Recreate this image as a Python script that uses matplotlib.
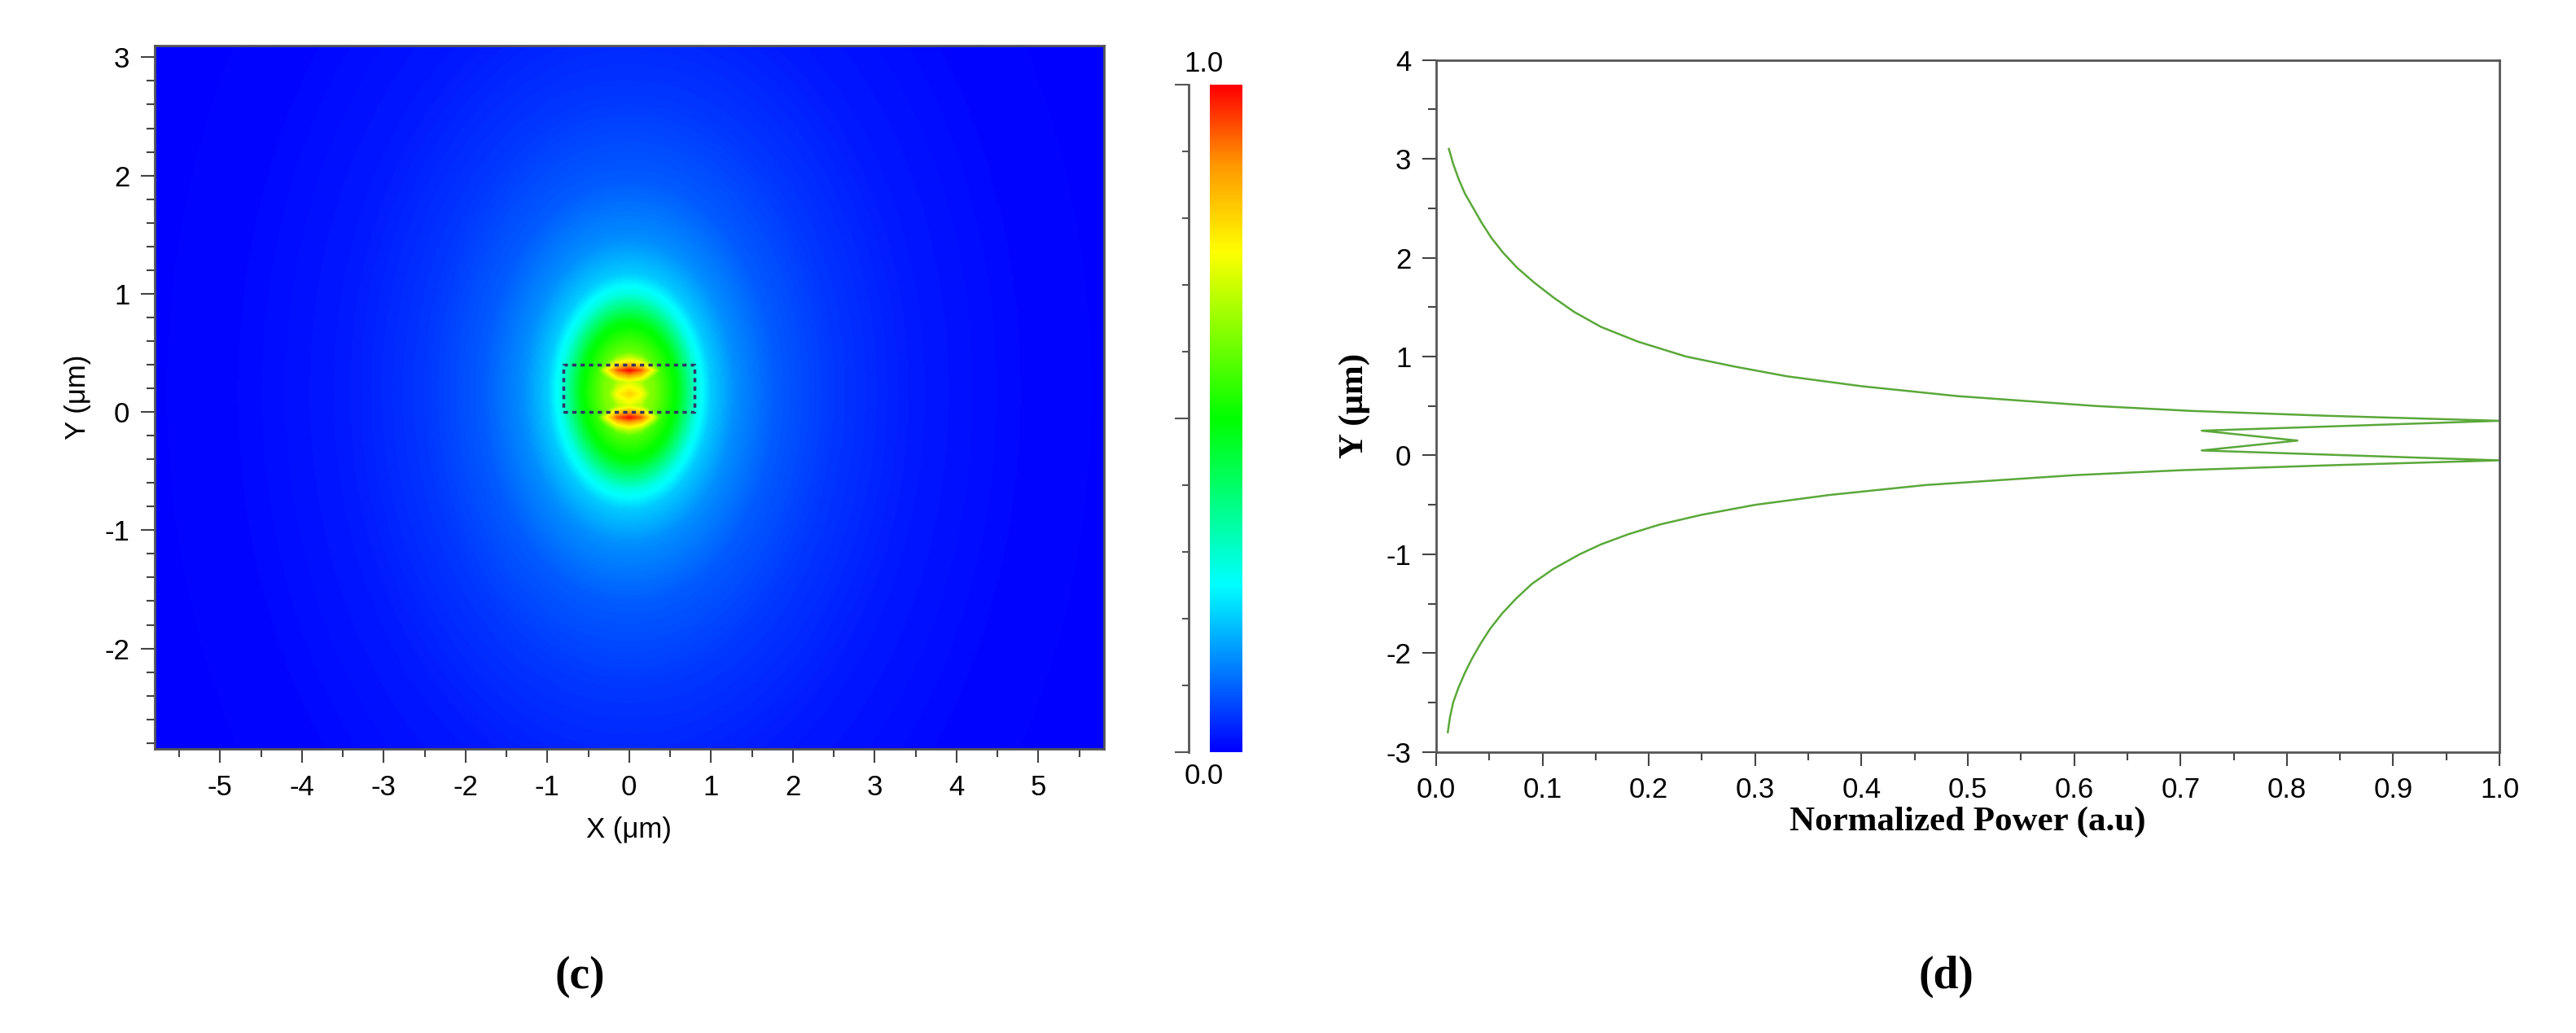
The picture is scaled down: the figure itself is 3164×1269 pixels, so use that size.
import numpy as np
import matplotlib
matplotlib.use("Agg")
import matplotlib.pyplot as plt
from matplotlib.colors import LinearSegmentedColormap
from matplotlib.ticker import MultipleLocator

plt.rcParams["axes.unicode_minus"] = False

# Vertical power profile (panel d)
prof_y = [3.1, 2.95, 2.8, 2.65, 2.5, 2.35, 2.2, 2.05, 1.9, 1.75, 1.6, 1.45, 1.3, 1.15, 1.0, 0.9,
          0.8, 0.7, 0.6, 0.5, 0.45, 0.4, 0.35,
          0.25, 0.15, 0.05, -0.05, -0.1, -0.15, -0.2, -0.3, -0.4, -0.5, -0.6, -0.7, -0.8, -0.9,
          -1.0, -1.15, -1.3, -1.45, -1.6, -1.75, -1.9, -2.05, -2.2, -2.35, -2.5, -2.65, -2.8]
prof_p = [0.012, 0.016, 0.021, 0.027, 0.035, 0.043, 0.052, 0.063, 0.076, 0.092, 0.11, 0.13, 0.155,
          0.19, 0.235, 0.28, 0.33, 0.4, 0.49, 0.62, 0.71, 0.84, 1.0,
          0.72, 0.81, 0.72, 1.0, 0.84, 0.7, 0.6, 0.46, 0.37, 0.3, 0.25, 0.21, 0.18, 0.155,
          0.135, 0.11, 0.09, 0.075, 0.062, 0.051, 0.042, 0.034, 0.027, 0.021, 0.016, 0.013, 0.011]
# Radial halo profile of the field (panel c), estimated
halo_r = [0.0, 0.3, 0.6, 0.83, 1.0, 1.3, 1.8, 2.5, 3.5, 5.0, 8.0]
halo_v = [0.68, 0.62, 0.48, 0.28, 0.2, 0.14, 0.09, 0.055, 0.025, 0.005, 0.0]
# Horizontal core profile (panel c), estimated
core_x = [0.0, 0.15, 0.3, 0.45, 0.6, 0.8, 1.1]
core_v = [1.0, 0.93, 0.72, 0.45, 0.25, 0.1, 0.0]

fig = plt.figure(figsize=(31.64, 12.69), dpi=100)
sans = "Liberation Sans"
serif = "Liberation Serif"

cmap = LinearSegmentedColormap.from_list("fd", [(0, "#0000ff"), (0.25, "#00ffff"), (0.5, "#00ff00"),
                                                 (0.75, "#ffff00"), (0.88, "#ff9900"), (1, "#ff0000")])

ax = fig.add_axes([0.060, 0.275, 0.3685, 0.681])
xs = np.linspace(-5.8, 5.8, 700)
ys = np.linspace(-2.85, 3.1, 700)
X, Y = np.meshgrid(xs, ys)
order = np.argsort(prof_y)
Fy = np.interp(Y, np.array(prof_y)[order], np.array(prof_p)[order])
R = np.sqrt(X**2 + (Y - 0.17)**2)
Fr = np.interp(R, halo_r, halo_v)
Fc = np.interp(np.abs(X), core_x, core_v)
field = np.maximum(Fr, Fy * Fc)
ax.imshow(field, extent=[-5.8, 5.8, -2.85, 3.1], origin="lower", cmap=cmap, vmin=0, vmax=1,
          aspect="auto", interpolation="bilinear")
ax.plot([-0.8, 0.8, 0.8, -0.8, -0.8], [0, 0, 0.4, 0.4, 0], ls=(0, (1.5, 1.5)), color="#333366", lw=2.5)
ax.set_xlim(-5.8, 5.8)
ax.set_ylim(-2.85, 3.1)
ax.xaxis.set_major_locator(MultipleLocator(1))
ax.xaxis.set_minor_locator(MultipleLocator(0.5))
ax.yaxis.set_major_locator(MultipleLocator(1))
ax.yaxis.set_minor_locator(MultipleLocator(0.2))
ax.tick_params(which="major", length=12, width=1.5, labelsize=25, pad=10, color="#444")
ax.tick_params(which="minor", length=7, width=1.5, color="#444")
for t in ax.get_xticklabels() + ax.get_yticklabels():
    t.set_family(sans)
for s in ax.spines.values():
    s.set_color("#555")
    s.set_linewidth(2)
ax.set_xlabel("X (μm)", fontsize=25, family=sans, labelpad=14)
ax.set_ylabel("Y (μm)", fontsize=25, family=sans, labelpad=12)

# colorbar
cax = fig.add_axes([0.4697, 0.272, 0.0126, 0.646])
cax.imshow(np.linspace(0, 1, 256)[:, None], cmap=cmap, aspect="auto", origin="lower", extent=[0, 1, 0, 1])
cax.axis("off")
tax = fig.add_axes([0.4614, 0.272, 0.0001, 0.646])
tax.set_ylim(0, 1)
for k in ["top", "bottom", "right"]:
    tax.spines[k].set_visible(False)
tax.spines["left"].set_color("#555")
tax.spines["left"].set_linewidth(2)
tax.set_xticks([])
tax.yaxis.set_major_locator(MultipleLocator(0.5))
tax.yaxis.set_minor_locator(MultipleLocator(0.1))
tax.tick_params(which="major", length=12, width=1.5, labelleft=False, color="#555")
tax.tick_params(which="minor", length=6, width=1.5, color="#555")
fig.text(0.4614 + 0.006, 0.925, "1.0", fontsize=25, family=sans, ha="center", va="bottom")
fig.text(0.4614 + 0.006, 0.262, "0.0", fontsize=25, family=sans, ha="center", va="top")

# right panel
ax2 = fig.add_axes([0.5575, 0.272, 0.4128, 0.670])
ax2.plot(prof_p, prof_y, color="#5aa83a", lw=1.8)
ax2.set_xlim(0, 1)
ax2.set_ylim(-3, 4)
ax2.xaxis.set_major_locator(MultipleLocator(0.1))
ax2.xaxis.set_minor_locator(MultipleLocator(0.05))
ax2.yaxis.set_major_locator(MultipleLocator(1))
ax2.yaxis.set_minor_locator(MultipleLocator(0.5))
ax2.xaxis.set_major_formatter(matplotlib.ticker.FormatStrFormatter("%.1f"))
ax2.tick_params(which="major", length=12, width=1.5, labelsize=25, pad=10, color="#444")
ax2.tick_params(which="minor", length=7, width=1.5, color="#444")
for t in ax2.get_xticklabels() + ax2.get_yticklabels():
    t.set_family(sans)
for s in ax2.spines.values():
    s.set_color("#555")
    s.set_linewidth(2)
ax2.set_xlabel("Normalized Power (a.u)", fontsize=31, family=serif, weight="bold", labelpad=2)
ax2.set_ylabel("Y (μm)", fontsize=31, family=serif, weight="bold", labelpad=14)

fig.text(712 / 3164, 1 - 1200 / 1269, "(c)", fontsize=40, family=serif, weight="bold", ha="center", va="center")
fig.text(2390 / 3164, 1 - 1200 / 1269, "(d)", fontsize=40, family=serif, weight="bold", ha="center", va="center")
fig.savefig("out.png", dpi=100, facecolor="white")
